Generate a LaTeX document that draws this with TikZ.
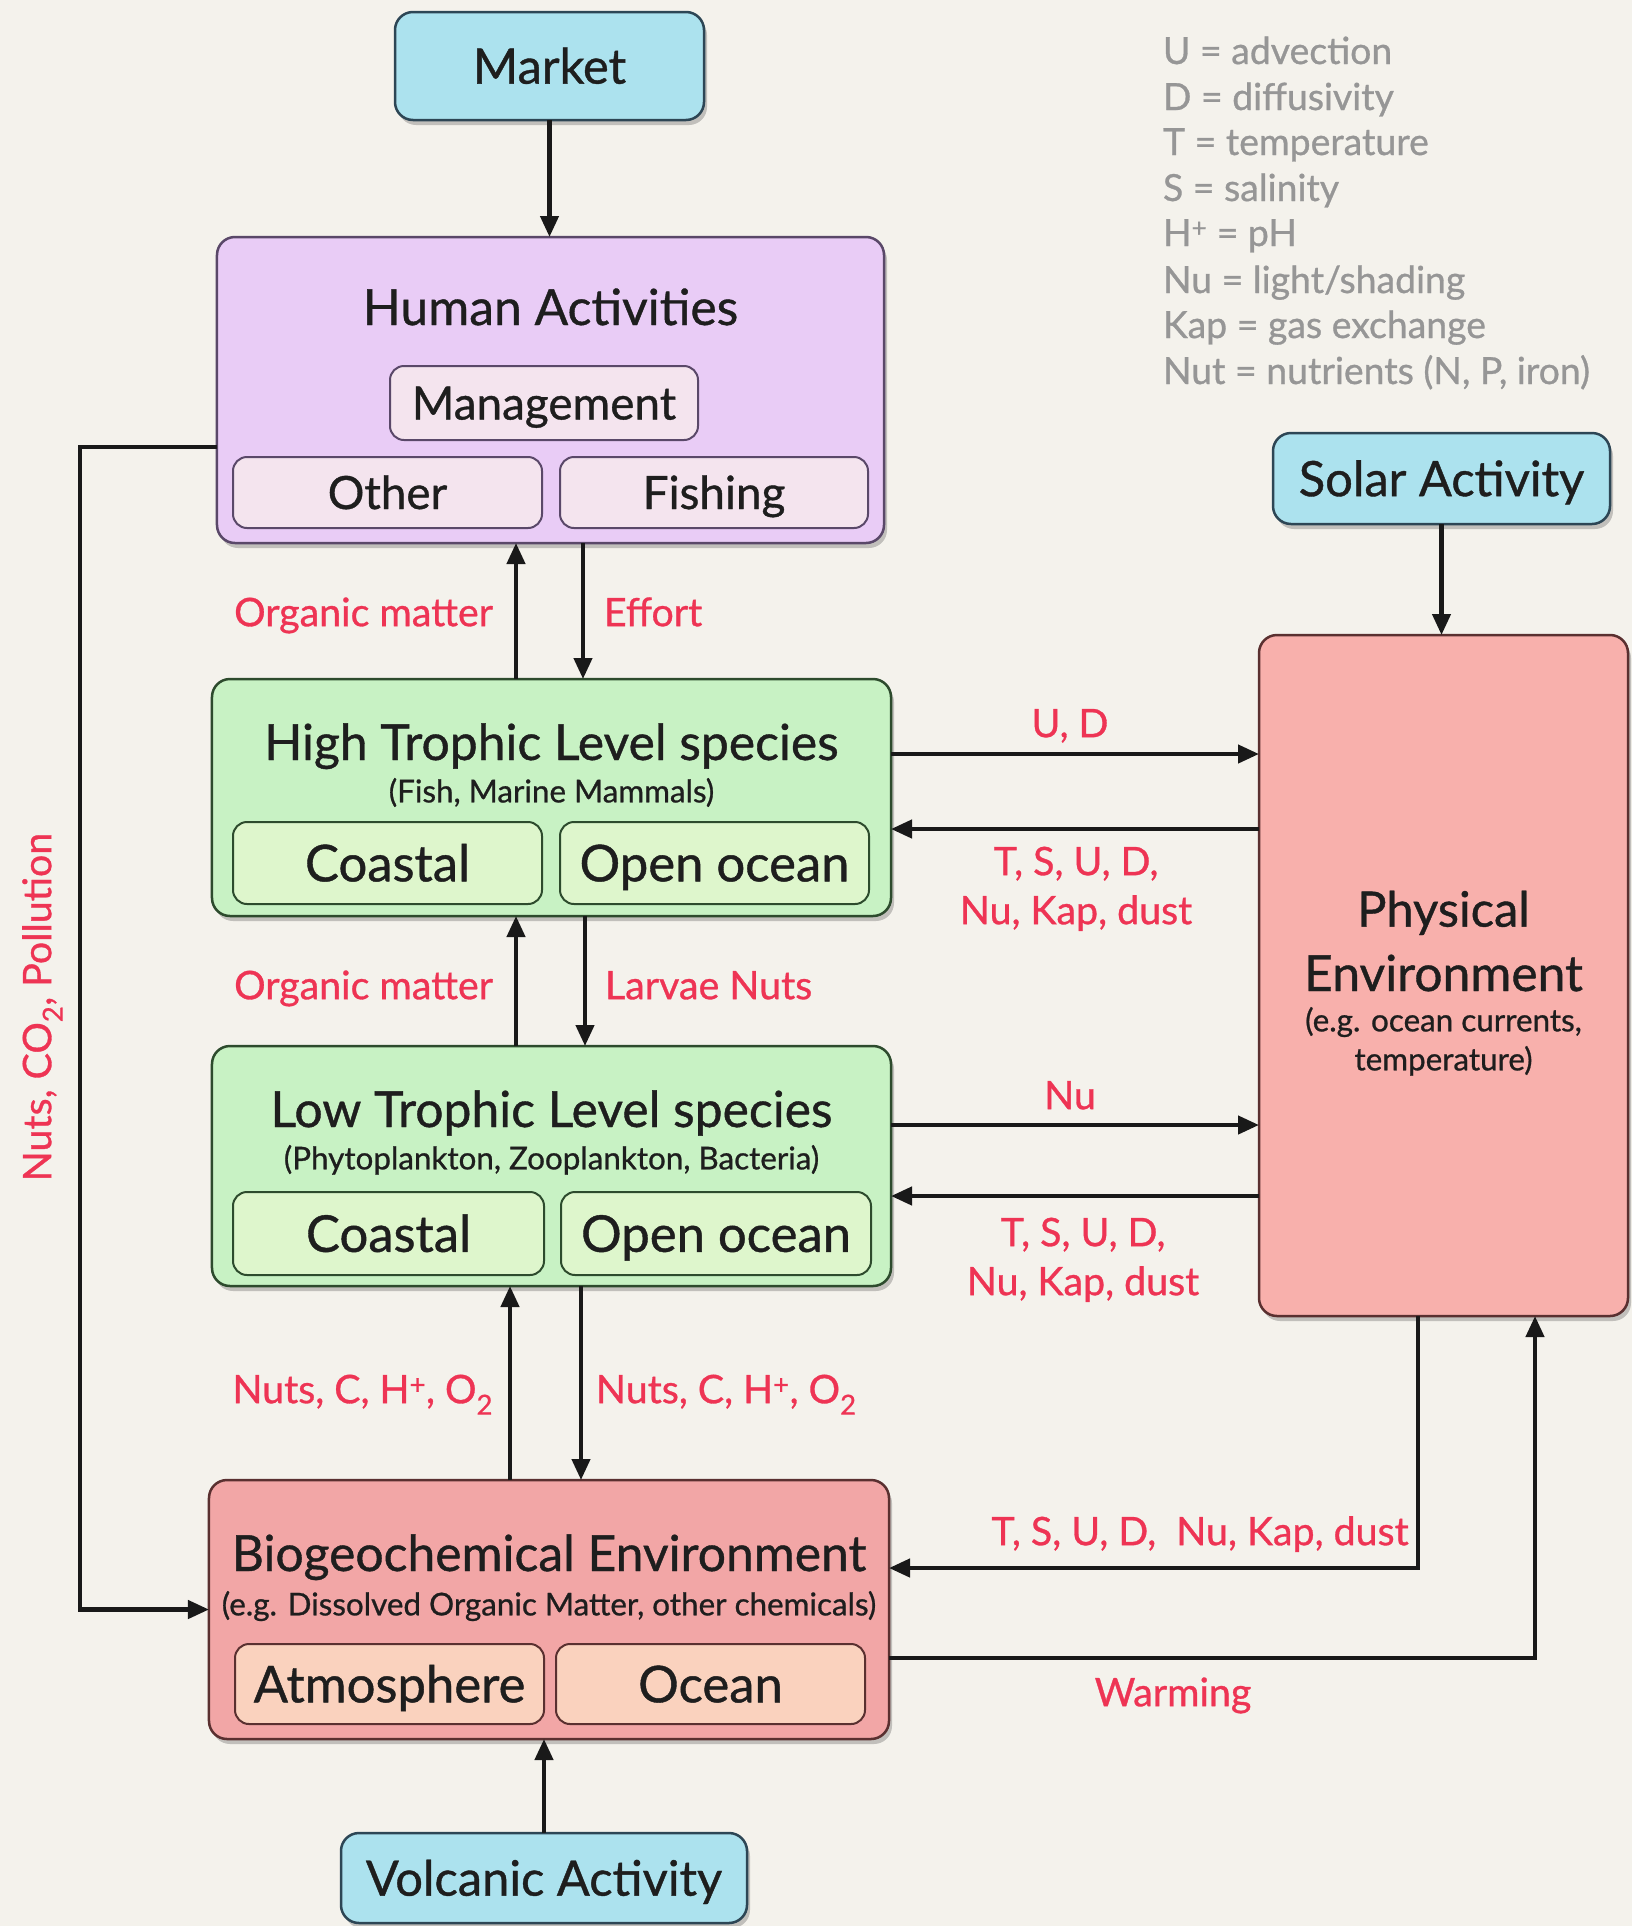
\documentclass[tikz,border=0pt]{standalone}
\usepackage{fontspec}
\setmainfont{Lato}[FakeBold=0.8]
\usetikzlibrary{arrows.meta,shadows}
\definecolor{bgc}{RGB}{244,242,236}
\definecolor{bluef}{RGB}{172,226,238}
\definecolor{blued}{RGB}{45,70,85}
\definecolor{humf}{RGB}{233,204,246}
\definecolor{humd}{RGB}{90,72,105}
\definecolor{huminf}{RGB}{244,228,238}
\definecolor{greenf}{RGB}{200,242,196}
\definecolor{greend}{RGB}{45,75,45}
\definecolor{greeninf}{RGB}{222,246,204}
\definecolor{biof}{RGB}{242,166,166}
\definecolor{biod}{RGB}{90,48,48}
\definecolor{bioinf}{RGB}{250,210,190}
\definecolor{physf}{RGB}{248,176,172}
\definecolor{redl}{RGB}{238,52,84}
\definecolor{legc}{RGB}{150,150,150}
\definecolor{txtc}{RGB}{30,30,30}
\begin{document}
\begin{tikzpicture}[x=1bp,y=-1bp,
  tx/.style n args={2}{inner sep=0pt,outer sep=0pt,text=txtc,
     font={\fontsize{#1}{#1}\selectfont},text height=#2bp,text depth=0bp},
  ttl/.style={tx={50}{36}},
  ttlb/.style={tx={51}{36.7}},
  ttlh/.style={tx={46}{33}},
  ttlm/.style={tx={49}{35.3}},
  sub/.style={tx={31.5}{22.7}},
  shbox/.style={rounded corners=18bp,line width=2.5bp,inner sep=0pt,outer sep=0pt,
     drop shadow={opacity=0.3,shadow xshift=3bp,shadow yshift=-5bp,fill=black!70}},
  inbox/.style={rounded corners=14bp,line width=2bp,inner sep=0pt,outer sep=0pt},
  bluebox/.style={shbox,draw=blued,fill=bluef},
  humbox/.style={shbox,draw=humd,fill=humf},
  huminbox/.style={inbox,draw=humd,fill=huminf},
  grbox/.style={shbox,draw=greend,fill=greenf},
  grinbox/.style={inbox,draw=greend,fill=greeninf},
  biobox/.style={shbox,draw=biod,fill=biof},
  bioinbox/.style={inbox,draw=biod,fill=bioinf},
  physbox/.style={shbox,draw=biod,fill=physf},
  arr/.style={line width=4.3bp,draw=black!90,-{Triangle[length=21bp,width=18bp]}},
  lbl/.style={tx={39.5}{28.4},text=redl},
  leg/.style={inner sep=0pt,outer sep=0pt,text=legc,font={\fontsize{37.5}{40}\selectfont},anchor=base west}
]
\useasboundingbox (0,0) rectangle (1632,1926);
\fill[bgc] (0,0) rectangle (1632,1926);

% legend
\node[leg] (lg1) at (1163,64) {U = advection};
\node[leg] (lg2) at (1163,110) {D = diffusivity};
\node[leg] (lg3) at (1163,155) {T = temperature};
\node[leg] (lg4) at (1163,201) {S = salinity};
\node[leg] (lg5) at (1163,246) {H\textsuperscript{+} = pH};
\node[leg] (lg6) at (1163,293) {Nu = light/shading};
\node[leg] (lg7) at (1163,338) {Kap = gas exchange};
\node[leg] (lg8) at (1163,384) {Nut = nutrients (N, P, iron)};

% Market
\node[bluebox,minimum width=309bp,minimum height=108bp] (mkt) at (549.5,66) {};
\node[ttlm] (mkt-t) at (549.5,66) {Market};

% Human activities
\node[humbox,minimum width=667bp,minimum height=306bp] (hum) at (550.5,390) {};
\node[ttl] (hum-t) at (550.5,307) {Human Activities};
\node[huminbox,minimum width=308bp,minimum height=74bp] (mgmt) at (544,403) {};
\node[ttlh] (mgmt-t) at (544,403) {Management};
\node[huminbox,minimum width=309bp,minimum height=71bp] (oth) at (387.5,492.5) {};
\node[ttlh] (oth-t) at (387.5,492.5) {Other};
\node[huminbox,minimum width=308bp,minimum height=71bp] (fish) at (714,492.5) {};
\node[ttlh] (fish-t) at (714,492.5) {Fishing};

% High trophic
\node[grbox,minimum width=679bp,minimum height=237bp] (high) at (551.5,797.5) {};
\node[ttl] (high-t) at (551.5,742) {High Trophic Level species};
\node[sub] (high-s) at (551.5,791) {(Fish, Marine Mammals)};
\node[grinbox,minimum width=309bp,minimum height=82bp] (hc) at (387.5,863) {};
\node[ttlb] (hc-t) at (387.5,863) {Coastal};
\node[grinbox,minimum width=309bp,minimum height=82bp] (ho) at (714.5,863) {};
\node[ttlb] (ho-t) at (714.5,863) {Open ocean};

% Low trophic
\node[grbox,minimum width=679bp,minimum height=240bp] (low) at (551.5,1166) {};
\node[ttl] (low-t) at (551.5,1109) {Low Trophic Level species};
\node[sub] (low-s) at (551.5,1158) {(Phytoplankton, Zooplankton, Bacteria)};
\node[grinbox,minimum width=311bp,minimum height=83bp] (lc) at (388.5,1233.5) {};
\node[ttlb] (lc-t) at (388.5,1233.5) {Coastal};
\node[grinbox,minimum width=310bp,minimum height=83bp] (lo) at (716,1233.5) {};
\node[ttlb] (lo-t) at (716,1233.5) {Open ocean};

% Biogeochemical
\node[biobox,minimum width=680bp,minimum height=259bp] (bio) at (549,1609.5) {};
\node[ttl] (bio-t) at (549,1553) {Biogeochemical Environment};
\node[sub] (bio-s) at (549,1604) {(e.g. Dissolved Organic Matter, other chemicals)};
\node[bioinbox,minimum width=309bp,minimum height=80bp] (atm) at (389.5,1684) {};
\node[ttlb] (atm-t) at (389.5,1684) {Atmosphere};
\node[bioinbox,minimum width=309bp,minimum height=80bp] (oce) at (710.5,1684) {};
\node[ttlb] (oce-t) at (710.5,1684) {Ocean};

% Volcanic
\node[bluebox,minimum width=406bp,minimum height=90bp] (volc) at (544,1878) {};
\node[ttlm] (volc-t) at (544,1878) {Volcanic Activity};

% Solar
\node[bluebox,minimum width=337bp,minimum height=91bp] (sol) at (1441.5,478.5) {};
\node[ttlm] (sol-t) at (1441.5,478.5) {Solar Activity};

% Physical
\node[physbox,minimum width=369bp,minimum height=681bp] (phys) at (1443.5,975.5) {};
\node[ttlm] (phys-t1) at (1443.5,909) {Physical};
\node[ttl] (phys-t2) at (1443.5,973) {Environment};
\node[sub] (phys-s1) at (1443.5,1020) {(e.g. ocean currents,};
\node[sub] (phys-s2) at (1443.5,1059) {temperature)};

% helper coordinates
\coordinate (x516) at (516,0);
\coordinate (x583) at (583,0);
\coordinate (x585) at (585,0);
\coordinate (x510) at (510,0);
\coordinate (x581) at (581,0);
\coordinate (x1418) at (1418,0);
\coordinate (x1535) at (1535,0);
\coordinate (y754) at (0,754);
\coordinate (y829) at (0,829);
\coordinate (y1125) at (0,1125);
\coordinate (y1196) at (0,1196);
\coordinate (y447) at (0,447);
\coordinate (y1568) at (0,1568);
\coordinate (y1658) at (0,1658);
\coordinate (loopx) at (80,1000);

% connectors
\draw[arr] (mkt.south) -- (hum.north -| mkt.south);
\draw[arr] (high.north -| x516) -- (hum.south -| x516);
\draw[arr] (hum.south -| x583) -- (high.north -| x583);
\draw[arr] (low.north -| x516) -- (high.south -| x516);
\draw[arr] (high.south -| x585) -- (low.north -| x585);
\draw[arr] (bio.north -| x510) -- (low.south -| x510);
\draw[arr] (low.south -| x581) -- (bio.north -| x581);
\draw[arr] (volc.north) -- (bio.south -| volc.north);
\draw[arr] (sol.south) -- (phys.north -| sol.south);
\draw[arr] (high.east |- y754) -- (phys.west |- y754);
\draw[arr] (phys.west |- y829) -- (high.east |- y829);
\draw[arr] (low.east |- y1125) -- (phys.west |- y1125);
\draw[arr] (phys.west |- y1196) -- (low.east |- y1196);
\draw[arr] (phys.south -| x1418) |- (bio.east |- y1568);
\draw[arr] (bio.east |- y1658) -| (phys.south -| x1535);
\draw[arr] (hum.west |- y447) -| (loopx) |- (bio.west);

% labels
\node[lbl,anchor=east] (l-om1) at (493,612) {Organic matter};
\node[lbl,anchor=west] (l-eff) at (604,612) {Effort};
\node[lbl,anchor=east] (l-om2) at (493,985) {Organic matter};
\node[lbl,anchor=west] (l-lar) at (605,985) {Larvae Nuts};
\node[lbl,anchor=east] (l-n1) at (493,1389) {Nuts, C, H\textsuperscript{+}, O\textsubscript{2}};
\node[lbl,anchor=west] (l-n2) at (596,1389) {Nuts, C, H\textsuperscript{+}, O\textsubscript{2}};
\node[lbl] (l-ud) at (1070,723) {U, D};
\node[lbl] (l-ts1a) at (1076,861) {T, S, U, D,};
\node[lbl] (l-ts1b) at (1076,910) {Nu, Kap, dust};
\node[lbl] (l-nu) at (1070,1095) {Nu};
\node[lbl] (l-ts2a) at (1083,1232) {T, S, U, D,};
\node[lbl] (l-ts2b) at (1083,1281) {Nu, Kap, dust};
\node[lbl] (l-ts3) at (1200,1531) {T, S, U, D,\ \ Nu, Kap, dust};
\node[lbl] (l-warm) at (1173,1692) {Warming};
\node[lbl,rotate=90] (l-poll) at (37,1007) {Nuts, CO\textsubscript{2}, Pollution};
\end{tikzpicture}
\end{document}
